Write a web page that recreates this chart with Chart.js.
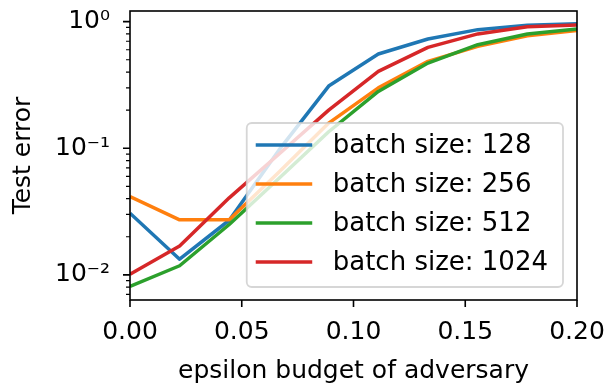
<!DOCTYPE html>
<html>
<head>
<meta charset="utf-8">
<script src="https://cdn.jsdelivr.net/npm/chart.js@4.4.1/dist/chart.umd.min.js"></script>
<style>
    html, body { margin: 0; padding: 0; background: #ffffff; }
    #wrap { width: 608px; height: 386px; }
</style>
</head>
<body>
<div id="wrap"><canvas id="errorChart" width="608" height="386"></canvas></div>
<script>
// epsilon values where the test error was measured
const epsilons = [0, 0.0222, 0.0444, 0.0667, 0.0889, 0.1111, 0.1333, 0.1556, 0.1778, 0.2];

const batchLabels = ['batch size: 128', 'batch size: 256', 'batch size: 512', 'batch size: 1024'];
const batchColors = ['#1f77b4', '#ff7f0e', '#2ca02c', '#d62728'];

const error128 = [0.0307, 0.0133, 0.027, 0.097, 0.31, 0.555, 0.73, 0.865, 0.935, 0.964];
const error256 = [0.0416, 0.0272, 0.0272, 0.065, 0.158, 0.30, 0.486, 0.638, 0.775, 0.853];
const error512 = [0.0081, 0.0118, 0.025, 0.058, 0.135, 0.281, 0.471, 0.658, 0.80, 0.875];
const error1024 = [0.0101, 0.0169, 0.0406, 0.09, 0.2, 0.405, 0.626, 0.80, 0.91, 0.94];

const xTicks = [0, 0.05, 0.1, 0.15, 0.2];
const xTickLabels = ['0.00', '0.05', '0.10', '0.15', '0.20'];

const yMajorTicks = [0.01, 0.1, 1];
const yMajorLabels = ['10\u207B\u00B2', '10\u207B\u00B9', '10\u2070'];
const yMinorTicks = [0.007, 0.008, 0.009, 0.02, 0.03, 0.04, 0.05, 0.06, 0.07, 0.08, 0.09,
    0.2, 0.3, 0.4, 0.5, 0.6, 0.7, 0.8, 0.9];

const FONT = 'DejaVu Sans';

document.addEventListener('DOMContentLoaded', function () {
    const ctx = document.getElementById('errorChart').getContext('2d');
    const seriesList = [error128, error256, error512, error1024];

    const datasets = seriesList.map((values, i) => ({
        label: batchLabels[i],
        data: values.map((v, j) => ({ x: epsilons[j], y: v })),
        borderColor: batchColors[i],
        backgroundColor: batchColors[i],
        borderWidth: 3.5,
        borderJoinStyle: 'round',
        pointRadius: 0,
        tension: 0,
        fill: false,
        order: seriesList.length - i   // red ends up on top, like matplotlib
    }));

    // outward ticks + black frame, matplotlib style
    const frameAndTicks = {
        id: 'frameAndTicks',
        afterDraw(chart) {
            const c = chart.ctx;
            const area = chart.chartArea;
            const xs = chart.scales.x;
            const ys = chart.scales.y;
            c.save();
            c.strokeStyle = '#000000';
            c.lineWidth = 1.6;
            c.beginPath();
            xs.ticks.forEach(t => {
                const px = xs.getPixelForValue(t.value);
                c.moveTo(px, area.bottom);
                c.lineTo(px, area.bottom + 7);
            });
            yMajorTicks.forEach(v => {
                const py = ys.getPixelForValue(v);
                c.moveTo(area.left, py);
                c.lineTo(area.left - 7, py);
            });
            c.stroke();
            c.lineWidth = 1.2;
            c.beginPath();
            yMinorTicks.forEach(v => {
                const py = ys.getPixelForValue(v);
                c.moveTo(area.left, py);
                c.lineTo(area.left - 4, py);
            });
            c.stroke();
            c.lineWidth = 1.6;
            c.strokeRect(area.left, area.top, area.right - area.left, area.bottom - area.top);
            c.restore();
        }
    };

    // legend box in the lower right corner of the plot
    const boxLegend = {
        id: 'boxLegend',
        afterDatasetsDraw(chart) {
            const c = chart.ctx;
            const area = chart.chartArea;
            c.save();
            c.font = '26px "' + FONT + '"';
            const textW = Math.max(...chart.data.datasets.map(d => c.measureText(d.label).width));
            const right = area.right - 14;
            const bottom = area.bottom - 13;
            const height = 164;
            const width = textW + 101;
            const left = right - width;
            const top = bottom - height;

            c.beginPath();
            c.roundRect(left, top, width, height, 5);
            c.fillStyle = 'rgba(255,255,255,0.8)';
            c.fill();
            c.lineWidth = 1.8;
            c.strokeStyle = 'rgba(204,204,204,0.8)';
            c.stroke();

            chart.data.datasets.forEach((d, i) => {
                const y = top + 22 + i * 39;
                c.beginPath();
                c.strokeStyle = d.borderColor;
                c.lineWidth = 3.5;
                c.moveTo(left + 9, y);
                c.lineTo(left + 65.5, y);
                c.stroke();
                c.fillStyle = '#000000';
                c.textAlign = 'left';
                c.textBaseline = 'middle';
                c.fillText(d.label, left + 86, y + 1);
            });
            c.restore();
        }
    };

    new Chart(ctx, {
        type: 'line',
        data: { datasets: datasets },
        options: {
            responsive: false,
            animation: false,
            devicePixelRatio: 1,
            layout: { padding: { left: 0, right: 31, top: 11, bottom: 0 } },
            plugins: {
                legend: { display: false },
                tooltip: { enabled: false }
            },
            scales: {
                x: {
                    type: 'linear',
                    min: 0,
                    max: 0.2,
                    afterBuildTicks(scale) {
                        scale.ticks = xTicks.map(v => ({ value: v }));
                    },
                    afterFit(scale) {
                        scale.height = 86;
                        scale.paddingLeft = 0;
                        scale.paddingRight = 0;
                    },
                    ticks: {
                        callback: (value, index) => xTickLabels[index],
                        font: { family: FONT, size: 25 },
                        color: '#000000',
                        padding: 10,
                        maxRotation: 0,
                        minRotation: 0,
                        autoSkip: false
                    },
                    grid: { drawOnChartArea: false, drawTicks: true, tickLength: 7, tickColor: 'rgba(0,0,0,0)' },
                    border: { display: false },
                    title: {
                        display: true,
                        text: 'epsilon budget of adversary',
                        font: { family: FONT, size: 25 },
                        color: '#000000',
                        padding: { top: 0, bottom: 0 }
                    }
                },
                y: {
                    type: 'logarithmic',
                    min: 0.00633,
                    max: 1.214,
                    afterBuildTicks(scale) {
                        scale.ticks = yMajorTicks.concat(yMinorTicks).sort((a, b) => a - b).map(v => ({ value: v }));
                    },
                    afterFit(scale) {
                        scale.width = 130;
                        scale.paddingTop = 0;
                        scale.paddingBottom = 0;
                    },
                    ticks: {
                        callback: function (value) {
                            const k = yMajorTicks.findIndex(m => Math.abs(m - value) < value * 1e-6);
                            return k >= 0 ? yMajorLabels[k] : '';
                        },
                        font: { family: FONT, size: 25 },
                        color: '#000000',
                        padding: 13,
                        autoSkip: false
                    },
                    grid: { drawOnChartArea: false, drawTicks: true, tickLength: 7, tickColor: 'rgba(0,0,0,0)' },
                    border: { display: false },
                    title: {
                        display: true,
                        text: 'Test error',
                        font: { family: FONT, size: 25 },
                        color: '#000000',
                        padding: { top: 8, bottom: 0 }
                    }
                }
            }
        },
        plugins: [frameAndTicks, boxLegend]
    });
});
</script>
</body>
</html>
